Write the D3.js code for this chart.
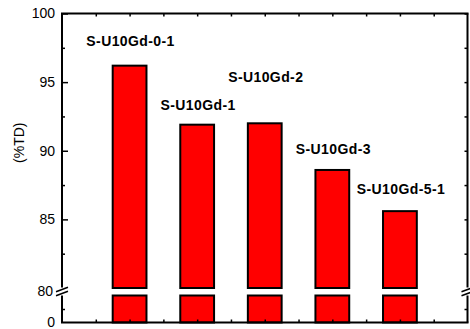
<!DOCTYPE html>
<html>
<head>
<meta charset="utf-8">
<script src="https://cdn.jsdelivr.net/npm/d3@7"></script>
<style>
  html, body { margin: 0; padding: 0; background: #fff; }
  svg { display: block; }
  text { font-family: "Liberation Sans", Arial, sans-serif; fill: #000; }
</style>
</head>
<body>
<script>
// Relative density of each sample
const samples = ["S-U10Gd-0-1", "S-U10Gd-1", "S-U10Gd-2", "S-U10Gd-3", "S-U10Gd-5-1"];
const density = [96.2, 91.9, 92.0, 88.6, 85.6];
const upperTicks = [100, 95, 90, 85];
const upperMinor = [97.5, 92.5, 87.5, 82.5];
const lowerTicks = [0];
const yTitle = "(%TD)";

// label lift above each bar top (px), staggered so neighbours don't collide
const labelLift = [20, 15, 41, 16, 17];

const W = 470, H = 329;
const plotL = 62, plotR = 467.5, plotT = 13.5, plotB = 322.5;
const breakY = 291.5;

const svg = d3.select("body").append("svg").attr("width", W).attr("height", H);

const x = d3.scaleLinear().domain([0, samples.length + 1]).range([plotL, plotR]);
// broken value axis: upper segment 80–100, lower stub 0–10
const yUp = d3.scaleLinear().domain([80, 100]).range([288, plotT]);
const yLo = d3.scaleLinear().domain([0, 10]).range([plotB, 295.5]);

const barW = x(0.5) - x(0);
const idx = d3.range(samples.length);

// bars, upper part
svg.append("g").selectAll("rect").data(idx).join("rect")
  .attr("x", i => x(i + 1) - barW / 2)
  .attr("y", i => yUp(density[i]))
  .attr("width", barW)
  .attr("height", i => yUp(80) - yUp(density[i]))
  .attr("fill", "#ff0000").attr("stroke", "#000").attr("stroke-width", 2);

// bars, lower part
svg.append("g").selectAll("rect").data(idx).join("rect")
  .attr("x", i => x(i + 1) - barW / 2)
  .attr("y", yLo(10))
  .attr("width", barW)
  .attr("height", yLo(0) - yLo(10))
  .attr("fill", "#ff0000").attr("stroke", "#000").attr("stroke-width", 2);

// tick marks
function styleAxis(g) {
  g.select(".domain").remove();
  g.selectAll(".tick line").attr("stroke", "#000").attr("stroke-width", 1.5);
  g.selectAll(".tick text").attr("font-size", 14);
}
// left
svg.append("g").attr("transform", `translate(${plotL},0)`)
  .call(d3.axisLeft(yUp).tickValues(upperTicks).tickSizeInner(-6).tickSizeOuter(0).tickPadding(7).tickFormat(d3.format("d")))
  .call(styleAxis);
svg.append("g").attr("transform", `translate(${plotL},0)`)
  .call(d3.axisLeft(yUp).tickValues(upperMinor).tickSizeInner(-3).tickSizeOuter(0).tickFormat(""))
  .call(styleAxis);
svg.append("g").attr("transform", `translate(${plotL},0)`)
  .call(d3.axisLeft(yLo).tickValues(lowerTicks).tickSizeInner(0).tickSizeOuter(0).tickPadding(7).tickFormat(d3.format("d")))
  .call(styleAxis);
svg.append("g").attr("transform", `translate(${plotL},0)`)
  .call(d3.axisLeft(yLo).tickValues([5]).tickSizeInner(-3).tickSizeOuter(0).tickFormat(""))
  .call(styleAxis);
// "80" sits at the break
svg.append("text").attr("x", 53).attr("y", breakY).attr("dy", "0.35em")
  .attr("text-anchor", "end").attr("font-size", 14).text("80");

// right
svg.append("g").attr("transform", `translate(${plotR},0)`)
  .call(d3.axisRight(yUp).tickValues(upperTicks.concat(upperMinor)).tickSizeInner(-3).tickSizeOuter(0).tickFormat(""))
  .call(styleAxis);
svg.append("g").attr("transform", `translate(${plotR},0)`)
  .call(d3.axisRight(yLo).tickValues([5]).tickSizeInner(-3).tickSizeOuter(0).tickFormat(""))
  .call(styleAxis);

// top & bottom ticks every half unit
const xTicks = d3.range(0.5, samples.length + 1, 0.5);
svg.append("g").attr("transform", `translate(0,${plotT})`)
  .call(d3.axisTop(x).tickValues(xTicks).tickSizeInner(-3).tickSizeOuter(0).tickFormat(""))
  .call(styleAxis);
svg.append("g").attr("transform", `translate(0,${plotB})`)
  .call(d3.axisBottom(x).tickValues(xTicks).tickSizeInner(-3).tickSizeOuter(0).tickFormat(""))
  .call(styleAxis);

// frame lines with a gap at the break
const frame = svg.append("g").attr("stroke", "#000").attr("stroke-width", 2).attr("fill", "none");
frame.append("line").attr("x1", plotL - 1).attr("x2", plotR + 1).attr("y1", plotT).attr("y2", plotT);
frame.append("line").attr("x1", plotL - 1).attr("x2", plotR + 1).attr("y1", plotB).attr("y2", plotB);
[plotL, plotR].forEach(ax => {
  frame.append("line").attr("x1", ax).attr("x2", ax).attr("y1", plotT).attr("y2", breakY - 4);
  frame.append("line").attr("x1", ax).attr("x2", ax).attr("y1", breakY + 4).attr("y2", plotB);
  // double slash break marks
  [-2, 2].forEach(o => {
    frame.append("line")
      .attr("x1", ax - 6).attr("y1", breakY + o + 2.2)
      .attr("x2", ax + 6).attr("y2", breakY + o - 2.2)
      .attr("stroke-width", 1.6);
  });
});

// y title
svg.append("text")
  .attr("transform", `translate(24,${(plotT + 288) / 2 - 8}) rotate(-90)`)
  .attr("text-anchor", "middle").attr("font-size", 14)
  .text(yTitle);

// sample labels
svg.append("g").selectAll("text").data(idx).join("text")
  .attr("x", i => x(i + 1) + 1)
  .attr("y", i => yUp(density[i]) - labelLift[i])
  .attr("text-anchor", "middle")
  .attr("font-size", 14).attr("font-weight", "bold").attr("letter-spacing", 0.4)
  .text(i => samples[i]);
</script>
</body>
</html>
